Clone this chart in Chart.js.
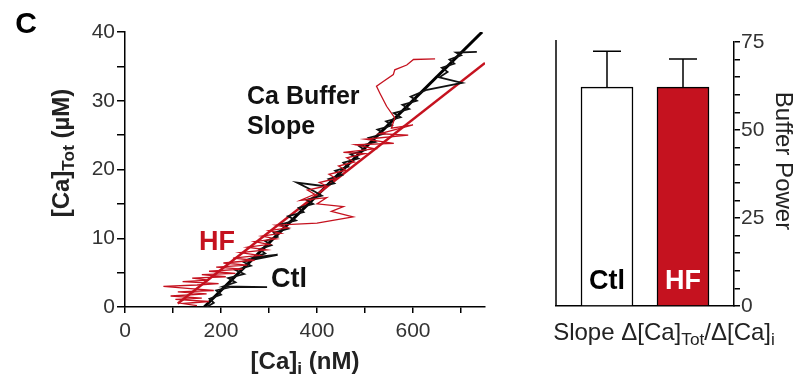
<!DOCTYPE html>
<html>
<head>
<meta charset="utf-8">
<script src="https://cdn.jsdelivr.net/npm/chart.js@4.4.0/dist/chart.umd.min.js"></script>
<style>
  html, body { margin: 0; padding: 0; background: #fff; }
  #wrap { position: relative; width: 794px; height: 377px; }
  #traceChart { position: absolute; left: 0; top: 0; }
  #barChart { position: absolute; left: 500px; top: 0; }
</style>
</head>
<body>
<div id="wrap">
  <canvas id="traceChart" width="500" height="377"></canvas>
  <canvas id="barChart" width="294" height="377"></canvas>
</div>
<script>
var FONT = '"Liberation Sans", Arial, Helvetica, sans-serif';
var RED = '#c5121f';

// Ctl trace: [Ca]i (nM) vs [Ca]Tot (uM)
var ctlX = [170, 185, 176, 200, 190, 219, 296, 205, 230, 215, 248, 230, 262, 246, 318, 268, 292, 280, 305, 292,
            318, 310, 340, 324, 356, 340, 372, 362, 392, 378, 410, 395, 358, 412, 436, 424, 452, 438, 465, 455,
            486, 470, 500, 488, 522, 508, 540, 526, 556, 544, 574, 560, 592, 578, 608, 595, 629, 702, 655, 672,
            660, 686, 676, 700, 690, 733];
var ctlY = [0.0, 0.6, 1.2, 1.8, 2.4, 2.9, 2.9, 3.0, 3.6, 4.2, 4.8, 5.4, 6.0, 6.6, 7.6, 7.2, 7.8, 8.4, 9.0, 9.6,
            10.2, 10.8, 11.4, 12.0, 12.6, 13.2, 13.8, 14.4, 15.0, 15.6, 16.2, 16.8, 18.1, 17.6, 18.0, 18.6, 19.2, 19.8, 20.4, 21.0,
            21.6, 22.2, 22.8, 23.4, 24.0, 24.6, 25.2, 25.8, 26.4, 27.0, 27.6, 28.2, 28.8, 29.4, 30.0, 30.6, 31.6, 32.6, 33.4, 34.2,
            34.8, 35.4, 36.0, 36.6, 37.0, 37.1];

// HF trace
var hfX = [150, 120, 175, 105, 160, 95, 170, 110, 185, 130, 80, 150, 195, 120, 175, 140, 210, 160, 230, 175,
           245, 190, 255, 205, 270, 225, 280, 240, 295, 255, 300, 270, 315, 285, 325, 300, 340, 315, 400, 475,
           430, 455, 400, 420, 365, 395, 380, 420, 405, 440, 425, 460, 445, 478, 462, 500, 455, 520, 480, 560,
           500, 590, 530, 600, 555, 562, 545, 531, 524, 538, 559, 562, 587, 601, 646];
var hfY = [0.2, 0.5, 0.8, 1.1, 1.3, 1.6, 1.9, 2.2, 2.4, 2.7, 3.0, 3.2, 3.4, 3.7, 3.9, 4.2, 4.4, 4.7, 4.9, 5.2,
           5.5, 5.8, 6.1, 6.4, 6.8, 7.1, 7.5, 7.9, 8.3, 8.7, 9.1, 9.5, 9.9, 10.3, 10.7, 11.1, 11.5, 11.9, 12.2, 13.1,
           13.9, 14.6, 15.0, 15.9, 15.5, 16.4, 17.0, 17.6, 18.1, 18.7, 19.3, 19.9, 20.5, 21.1, 21.7, 22.3, 22.5, 23.0, 23.6, 23.8,
           24.4, 25.0, 25.2, 26.5, 26.0, 27.5, 29.2, 31.1, 32.1, 32.8, 33.8, 34.5, 35.2, 36.0, 36.1];

// fitted buffer slopes (end points)
var ctlFitX = [165, 744];
var ctlFitY = [0, 40];
var hfFitX = [110, 750];
var hfFitY = [0.5, 35.5];

var traceXTicks = [0, 100, 200, 300, 400, 500, 600, 700];
var traceYTicks = [0, 5, 10, 15, 20, 25, 30, 35, 40];

// bar panel
var groups = ['Ctl', 'HF'];
var slopeMean = [62.2, 62.2];
var slopeErr = [10.2, 8.0];
var barYTicks = [0, 5, 10, 15, 20, 25, 30, 35, 40, 45, 50, 55, 60, 65, 70, 75];

function pts(xs, ys) {
  return xs.map(function (x, i) { return { x: x, y: ys[i] }; });
}

// text with subscripts, centred on (x, y)
function drawRich(ctx, parts, x, y, o) {
  var f = function (s) { return (o.weight || 'normal') + ' ' + s + 'px ' + FONT; };
  ctx.save();
  ctx.translate(x, y);
  if (o.rotate) ctx.rotate(o.rotate);
  var w = 0;
  parts.forEach(function (p) {
    ctx.font = f(p[1] ? o.size * 0.72 : o.size);
    w += ctx.measureText(p[0]).width;
  });
  var cx = o.align === 'left' ? 0 : -w / 2;
  ctx.fillStyle = o.color || '#222';
  ctx.textBaseline = 'middle';
  ctx.textAlign = 'left';
  parts.forEach(function (p) {
    ctx.font = f(p[1] ? o.size * 0.72 : o.size);
    ctx.fillText(p[0], cx, p[1] ? o.size * 0.3 : 0);
    cx += ctx.measureText(p[0]).width;
  });
  ctx.restore();
}

var traceText = {
  id: 'traceText',
  afterDraw: function (chart) {
    var ctx = chart.ctx;
    drawRich(ctx, [['C', 0]], 26, 25, { size: 30, weight: 'bold', color: '#000' });
    drawRich(ctx, [['[Ca]', 0], ['Tot', 1], [' (\u00b5M)', 0]], 62, 153, { size: 24, weight: 'bold', rotate: -Math.PI / 2 });
    drawRich(ctx, [['[Ca]', 0], ['i', 1], [' (nM)', 0]], 305, 362, { size: 24, weight: 'bold' });
    drawRich(ctx, [['Ca Buffer', 0]], 247, 97, { size: 25, weight: 'bold', color: '#111', align: 'left' });
    drawRich(ctx, [['Slope', 0]], 247, 127, { size: 25, weight: 'bold', color: '#111', align: 'left' });
    drawRich(ctx, [['HF', 0]], 217, 243, { size: 27, weight: 'bold', color: RED });
    drawRich(ctx, [['Ctl', 0]], 289, 280, { size: 27, weight: 'bold', color: '#111' });
  }
};

new Chart(document.getElementById('traceChart'), {
  type: 'scatter',
  data: {
    datasets: [
      { data: pts(hfX, hfY), showLine: true, borderColor: RED, borderWidth: 1.3, pointRadius: 0 },
      { data: pts(ctlX, ctlY), showLine: true, borderColor: '#111', borderWidth: 1.8, pointRadius: 0 },
      { data: pts(hfFitX, hfFitY), showLine: true, borderColor: RED, borderWidth: 2.5, pointRadius: 0 },
      { data: pts(ctlFitX, ctlFitY), showLine: true, borderColor: '#000', borderWidth: 3, pointRadius: 0 }
    ]
  },
  options: {
    responsive: false,
    animation: false,
    layout: { padding: { left: 0, top: 32, right: 15, bottom: 0 } },
    plugins: { legend: { display: false }, tooltip: { enabled: false } },
    scales: {
      x: {
        type: 'linear', min: 0, max: 750,
        afterBuildTicks: function (s) { s.ticks = traceXTicks.map(function (v) { return { value: v }; }); },
        afterFit: function (s) { s.height = 70; },
        ticks: {
          callback: function (v) { return v % 200 === 0 ? v : ''; },
          font: { size: 21, family: FONT }, color: '#333', padding: 6, maxRotation: 0, autoSkip: false
        },
        grid: { drawOnChartArea: false, color: '#000', lineWidth: 1.5, tickLength: 6 },
        border: { color: '#000', width: 1.5 }
      },
      y: {
        min: 0, max: 40,
        afterBuildTicks: function (s) { s.ticks = traceYTicks.map(function (v) { return { value: v }; }); },
        afterFit: function (s) { s.width = 125; },
        ticks: {
          callback: function (v) { return v % 10 === 0 ? v : ''; },
          font: { size: 21, family: FONT }, color: '#333', padding: 2, autoSkip: false
        },
        grid: { drawOnChartArea: false, color: '#000', lineWidth: 1.5, tickLength: 8 },
        border: { color: '#000', width: 1.5 }
      }
    }
  },
  plugins: [traceText]
});

var barExtras = {
  id: 'barExtras',
  afterDatasetsDraw: function (chart) {
    var ctx = chart.ctx;
    var a = chart.chartArea;
    var ys = chart.scales.y;
    var meta = chart.getDatasetMeta(0);
    ctx.save();
    ctx.strokeStyle = '#000';
    ctx.lineWidth = 1.5;
    // plain left frame line
    ctx.beginPath();
    ctx.moveTo(a.left, 40);
    ctx.lineTo(a.left, a.bottom);
    ctx.stroke();
    meta.data.forEach(function (el, i) {
      var top = ys.getPixelForValue(slopeMean[i] + slopeErr[i]);
      ctx.beginPath();
      ctx.moveTo(el.x, el.y);
      ctx.lineTo(el.x, top);
      ctx.moveTo(el.x - 14, top);
      ctx.lineTo(el.x + 14, top);
      ctx.stroke();
      drawRich(ctx, [[groups[i], 0]], el.x, 282, { size: 27, weight: 'bold', color: i === 0 ? '#000' : '#fff' });
    });
    ctx.restore();
    drawRich(ctx, [['Slope \u0394[Ca]', 0], ['Tot', 1], ['/\u0394[Ca]', 0], ['i', 1]], 164, 333, { size: 24, color: '#222' });
    drawRich(ctx, [['Buffer Power', 0]], 283, 161, { size: 24, color: '#222', rotate: Math.PI / 2 });
  }
};

new Chart(document.getElementById('barChart'), {
  type: 'bar',
  data: {
    datasets: [{
      data: groups.map(function (g, i) { return { x: i + 1, y: slopeMean[i] }; }),
      backgroundColor: ['#ffffff', RED],
      borderColor: '#000',
      borderWidth: 1.5,
      borderSkipped: 'start',
      barThickness: 52
    }]
  },
  options: {
    responsive: false,
    animation: false,
    layout: { padding: { left: 56, top: 42, right: 0, bottom: 0 } },
    plugins: { legend: { display: false }, tooltip: { enabled: false } },
    scales: {
      x: {
        type: 'linear', min: 0.329, max: 2.671, offset: false,
        afterFit: function (s) { s.height = 71; },
        ticks: { display: false },
        grid: { display: false, offset: false },
        border: { color: '#000', width: 1.5 }
      },
      y: {
        position: 'right', min: 0, max: 75,
        afterBuildTicks: function (s) { s.ticks = barYTicks.map(function (v) { return { value: v }; }); },
        afterFit: function (s) { s.width = 60; },
        ticks: {
          callback: function (v) { return v % 25 === 0 ? v : ''; },
          font: { size: 21, family: FONT }, color: '#333', padding: 1, autoSkip: false
        },
        grid: { drawOnChartArea: false, color: '#000', lineWidth: 1.5, tickLength: 6 },
        border: { color: '#000', width: 1.5 }
      }
    }
  },
  plugins: [barExtras]
});
</script>
</body>
</html>
